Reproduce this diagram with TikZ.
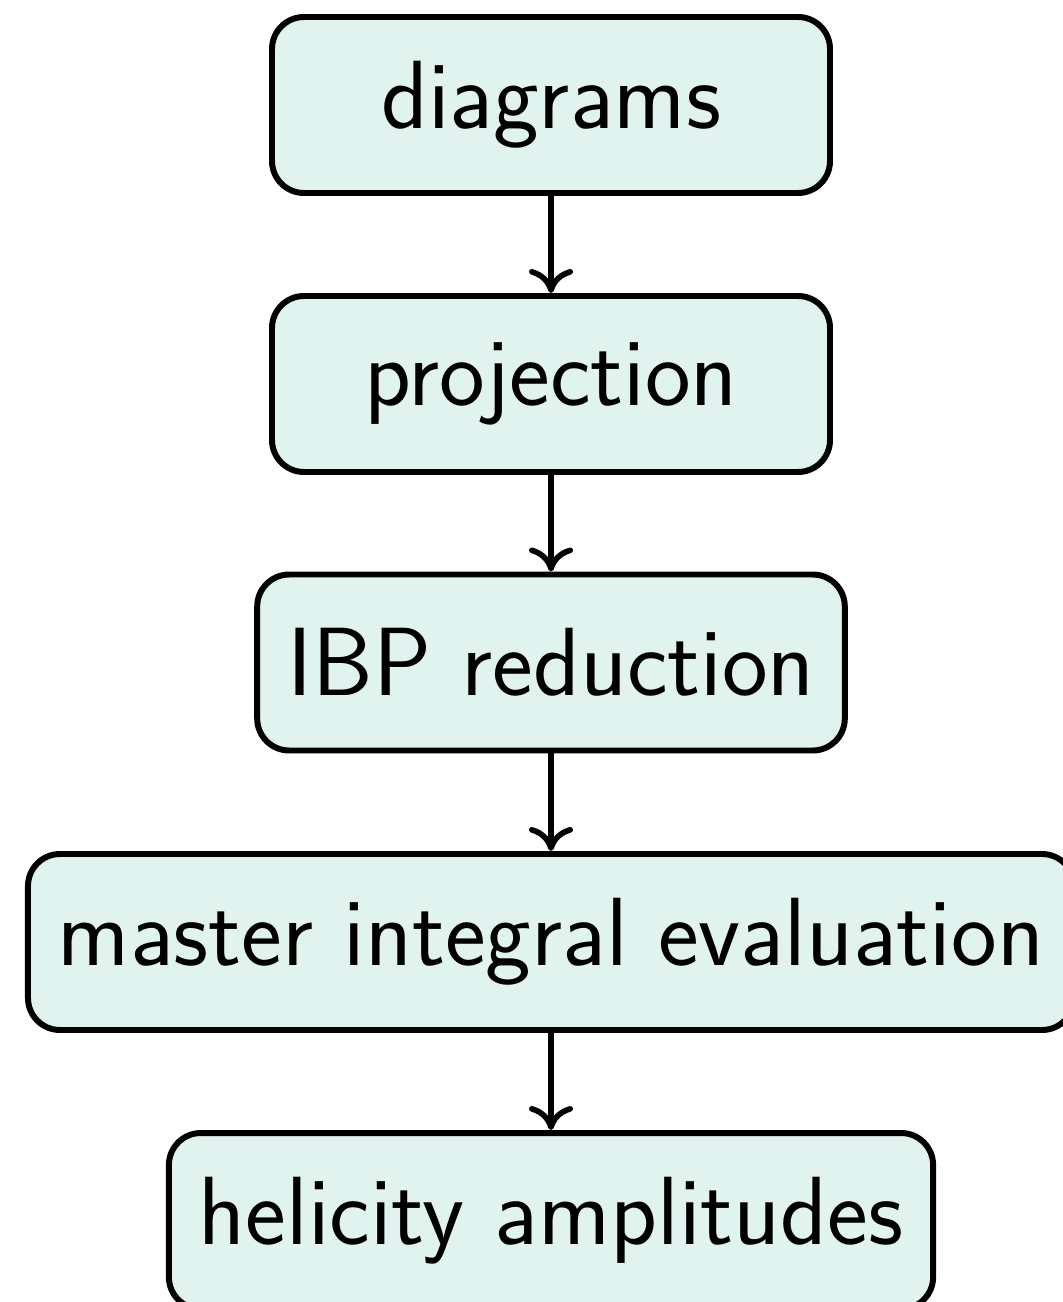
\documentclass[tikz,border=0pt]{standalone}
\usepackage{tikz}
\usetikzlibrary{arrows.meta}

\definecolor{boxfill}{RGB}{224,243,238}

\tikzset{
    stage/.style={draw, fill=boxfill, line width=1.7pt, rounded corners=3.2mm,
        minimum width=5.58cm, minimum height=1.76cm, inner xsep=3.0mm,
        font=\sffamily\fontsize{27.6}{32}\selectfont},
    flow/.style={-{To[length=2.4mm,width=4.4mm]}, line width=1.6pt}
}

\begin{document}
\begin{tikzpicture}[scale=1, transform shape]
    % Fix the page to the size of the original picture
    \useasboundingbox (0,0) rectangle (10.62,-13.02);

    % The stages of the calculation
    \node (diag) at (5.51,-1.05) [stage] {diagrams};
    \node (proj) at (5.51,-3.84) [stage] {projection};
    \node (ibp) at (5.51,-6.625) [stage] {IBP reduction};
    \node (master) at (5.51,-9.42) [stage] {master integral evaluation};
    \node (heli) at (5.51,-12.21) [stage] {helicity amplitudes};

    % Connect the stages from top to bottom
    \draw[flow] (diag) -- (proj);
    \draw[flow] (proj) -- (ibp);
    \draw[flow] (ibp) -- (master);
    \draw[flow] (master) -- (heli);
\end{tikzpicture}
\end{document}
